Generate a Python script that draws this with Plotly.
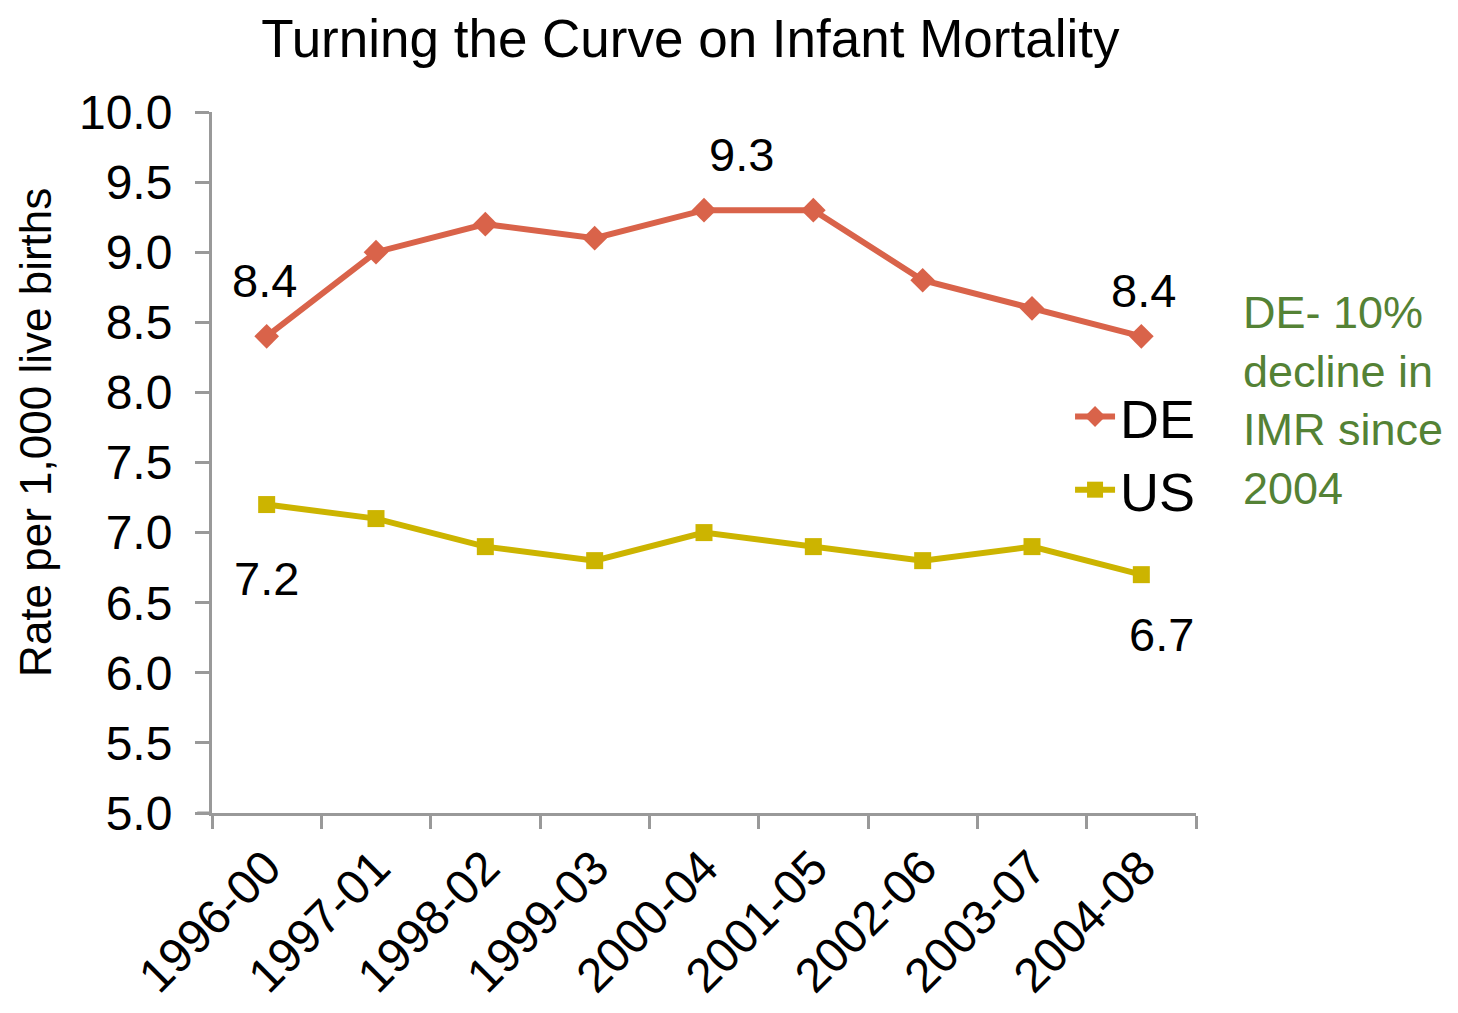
import plotly.graph_objects as go

periods = ["1996-00", "1997-01", "1998-02", "1999-03", "2000-04",
           "2001-05", "2002-06", "2003-07", "2004-08"]
de_rate = [8.4, 9.0, 9.2, 9.1, 9.3, 9.3, 8.8, 8.6, 8.4]
us_rate = [7.2, 7.1, 6.9, 6.8, 7.0, 6.9, 6.8, 6.9, 6.7]
y_ticks = [5.0, 5.5, 6.0, 6.5, 7.0, 7.5, 8.0, 8.5, 9.0, 9.5, 10.0]

DE_COLOR = "#D9634A"
US_COLOR = "#CCB400"
GREEN = "#548235"
AXIS = "#999999"
FONT = "Liberation Sans, Arial, sans-serif"

fig = go.Figure()
fig.add_trace(go.Scatter(
    x=periods, y=de_rate, name="DE", mode="lines+markers",
    line=dict(color=DE_COLOR, width=6),
    marker=dict(symbol="diamond", size=19, color=DE_COLOR),
))
fig.add_trace(go.Scatter(
    x=periods, y=us_rate, name="US", mode="lines+markers",
    line=dict(color=US_COLOR, width=6),
    marker=dict(symbol="square", size=17, color=US_COLOR),
))

# data labels
labels = [
    (periods[0], de_rate[0], "8.4", -2, 56),
    (periods[4], de_rate[4], "9.3", 37, 56),
    (periods[8], de_rate[8], "8.4", 2, 46),
    (periods[0], us_rate[0], "7.2", 0, -74),
    (periods[8], us_rate[8], "6.7", 20, -60),
]
for xv, yv, txt, xs, ys in labels:
    fig.add_annotation(x=xv, y=yv, text=txt, showarrow=False,
                       xshift=xs, yshift=ys,
                       font=dict(size=47, color="black", family=FONT))

fig.add_annotation(
    xref="paper", yref="paper", x=-0.18, y=0.5435,
    xanchor="center", yanchor="middle",
    text="Rate per 1,000 live births", textangle=-90, showarrow=False,
    font=dict(size=44, color="black", family=FONT),
)
fig.add_annotation(
    xref="paper", yref="paper", x=1.046, y=0.753,
    xanchor="left", yanchor="top", align="left",
    text="DE- 10%<br>decline in<br>IMR since<br>2004", showarrow=False,
    font=dict(size=45, color=GREEN, family=FONT),
)

# small extension of the x-axis line to the left of the y axis
fig.add_shape(type="line", xref="paper", yref="paper",
              x0=-0.015, x1=0, y0=0, y1=0,
              line=dict(color=AXIS, width=3))

fig.update_layout(
    width=1458, height=1013,
    margin=dict(l=204, r=270, t=104, b=208, autoexpand=False),
    paper_bgcolor="white", plot_bgcolor="white",
    font=dict(family=FONT, color="black"),
    title=dict(text="Turning the Curve on Infant Mortality",
               x=0.468, xanchor="center", y=1 - 30 / 1013, yanchor="middle",
               yref="container", font=dict(size=53, color="black", family=FONT)),
    showlegend=True,
    legend=dict(x=0.872, y=0.625, xanchor="left", yanchor="top",
                bgcolor="rgba(0,0,0,0)", font=dict(size=54, color="black", family=FONT),
                tracegroupgap=0, itemwidth=40),
)
fig.update_xaxes(
    type="category", range=[-0.5, 8.5], tickson="boundaries",
    showline=True, linecolor=AXIS, linewidth=3,
    ticks="outside", ticklen=13, tickwidth=3, tickcolor=AXIS,
    tickangle=-45, tickfont=dict(size=48, color="black", family=FONT),
    showgrid=False, zeroline=False, ticklabelstandoff=4, automargin=False,
)
fig.update_yaxes(
    range=[5.0, 10.0], tickvals=y_ticks, ticktext=[f"{v:.1f}" for v in y_ticks],
    showline=True, linecolor=AXIS, linewidth=3,
    ticks="outside", ticklen=14, tickwidth=3, tickcolor=AXIS,
    tickfont=dict(size=48, color="black", family=FONT),
    showgrid=False, zeroline=False, ticklabelstandoff=13, automargin=False,
)

fig.write_html("out.html")
